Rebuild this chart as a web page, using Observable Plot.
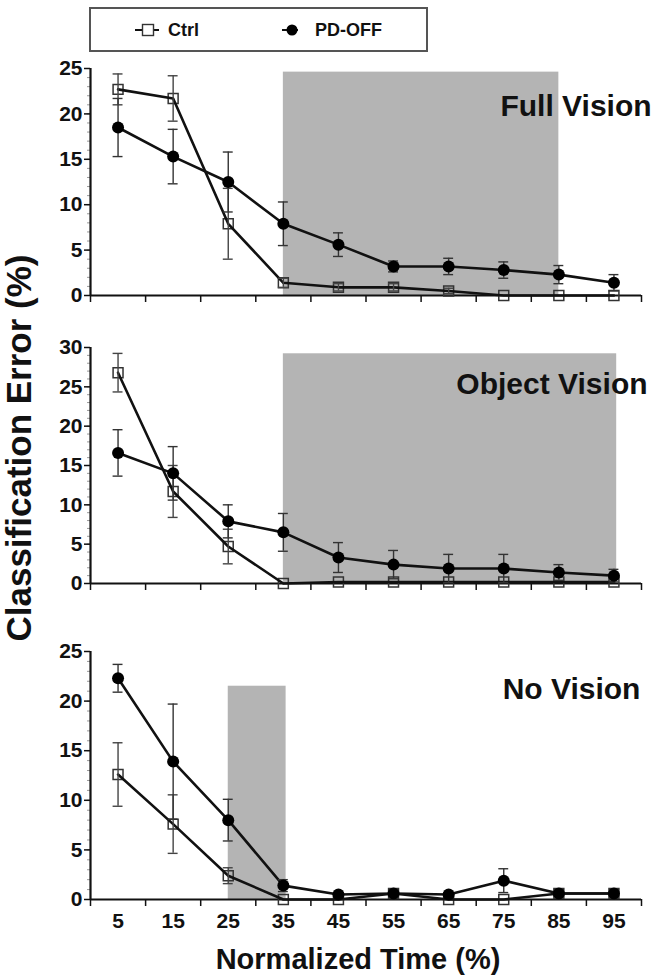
<!DOCTYPE html>
<html>
<head>
<meta charset="utf-8">
<script src="https://cdn.jsdelivr.net/npm/d3@7"></script>
<script src="https://cdn.jsdelivr.net/npm/@observablehq/plot@0.6"></script>
<style>
  body { margin: 0; background: #fff; }
  #root { position: relative; width: 657px; height: 977px; overflow: hidden;
          font-family: "Liberation Sans", Arial, Helvetica, sans-serif; color: #111; }
  .panel { position: absolute; left: 0; }
  #legend { position: absolute; left: 0; top: 0; }
  #ylabel { position: absolute; width: 460px; left: -211px; top: 429px; height: 38px; line-height: 38px;
            text-align: center; font-size: 35px; font-weight: bold; transform: rotate(-90deg);
            transform-origin: 50% 50%; }
</style>
</head>
<body>
<div id="root">
  <svg id="legend" width="657" height="60" font-family='"Liberation Sans", Arial, Helvetica, sans-serif'>
    <rect x="90" y="8" width="337" height="43" fill="#fff" stroke="#555" stroke-width="2"/>
    <line x1="135" y1="30" x2="159" y2="30" stroke="#111" stroke-width="2"/>
    <rect x="142.5" y="24.5" width="11" height="11" fill="#fff" stroke="#333" stroke-width="1.4"/>
    <text x="168" y="30" dy="0.35em" font-size="18" font-weight="bold" fill="#111">Ctrl</text>
    <line x1="282" y1="30" x2="298" y2="30" stroke="#111" stroke-width="2"/>
    <circle cx="292" cy="30" r="5.5" fill="#000"/>
    <text x="315" y="30" dy="0.35em" font-size="18" font-weight="bold" fill="#111">PD-OFF</text>
  </svg>
  <div id="ylabel">Classification Error (%)</div>
</div>
<script>
// ---- data ----
const times = [5, 15, 25, 35, 45, 55, 65, 75, 85, 95];
const xTicksMinor = [0, 10, 20, 30, 40, 50, 60, 70, 80, 90, 100];

// Full Vision
const ctrlFull    = [22.7, 21.7, 7.9, 1.4, 0.9, 0.9, 0.5, 0, 0, 0];
const ctrlFullErr = [1.7, 2.5, 3.9, 0.5, 0.4, 0.4, 0.3, 0, 0, 0];
const pdFull      = [18.5, 15.3, 12.5, 7.9, 5.6, 3.2, 3.2, 2.8, 2.3, 1.4];
const pdFullErr   = [3.2, 3.0, 3.3, 2.4, 1.3, 0.6, 0.9, 0.9, 1.0, 0.9];

// Object Vision
const ctrlObj     = [26.8, 11.7, 4.7, 0, 0.2, 0.2, 0.2, 0.2, 0.2, 0.2];
const ctrlObjErr  = [2.45, 3.3, 2.2, 0, 0, 0, 0, 0, 0, 0];
const pdObj       = [16.6, 14.0, 7.9, 6.5, 3.3, 2.4, 1.9, 1.9, 1.4, 1.0];
const pdObjErr    = [2.95, 3.4, 2.1, 2.4, 1.9, 1.8, 1.8, 1.8, 1.0, 0.8];

// No Vision
const ctrlNo      = [12.6, 7.6, 2.4, 0, 0, 0.6, 0, 0, 0.6, 0.6];
const ctrlNoErr   = [3.2, 2.95, 0.8, 0, 0, 0, 0, 0, 0, 0];
const pdNo        = [22.3, 13.9, 8.0, 1.4, 0.5, 0.6, 0.5, 1.9, 0.6, 0.6];
const pdNoErr     = [1.4, 5.8, 2.1, 0.6, 0, 0, 0, 1.2, 0, 0];

// shaded windows
const shadeFull = {x1: 35, x2: 85, top: 24.6};
const shadeObj  = {x1: 35, x2: 95.5, top: 29.2};
const shadeNo   = {x1: 25, x2: 35.5, top: 21.5};

const FONT = '"Liberation Sans", Arial, Helvetica, sans-serif';

function panel(cfg) {
  const mk = (v, e) => times.map((t, i) => ({t, v: v[i], e: e[i]}));
  const c = mk(cfg.ctrl, cfg.ctrlErr);
  const p = mk(cfg.pd, cfg.pdErr);
  const cap = 0.9;
  const withErr = arr => arr.filter(d => d.e > 0);
  const errMarks = (arr, stroke) => [
    Plot.ruleX(withErr(arr), {x: "t", y1: d => d.v - d.e, y2: d => d.v + d.e, stroke, strokeWidth: 1.4}),
    Plot.ruleY(withErr(arr), {y: d => d.v + d.e, x1: d => d.t - cap, x2: d => d.t + cap, stroke, strokeWidth: 1.4}),
    Plot.ruleY(withErr(arr), {y: d => d.v - d.e, x1: d => d.t - cap, x2: d => d.t + cap, stroke, strokeWidth: 1.4})
  ];
  const yTicks = d3.range(0, cfg.yMax + 1, 5);
  const marks = [
    Plot.rect([cfg.shade], {x1: "x1", x2: "x2", y1: 0, y2: "top", fill: "#b4b4b4"}),
    Plot.axisY(d3.range(0, cfg.yMax + 1, 1), {tickSize: 3, stroke: "#999", tickFormat: () => "", label: null}),
    Plot.axisY(yTicks, {tickSize: 6, tickPadding: 2, fontSize: 21, fontWeight: "bold", fill: "#111",
                        stroke: "#111", strokeWidth: 1.5, label: null}),
    Plot.axisX(xTicksMinor, {tickSize: 7, stroke: "#111", strokeWidth: 1.5, tickFormat: () => "", label: null}),
    Plot.ruleY([0], {stroke: "#111", strokeWidth: 2.2}),
    Plot.ruleX([0], {y1: 0, y2: cfg.yMax, stroke: "#111", strokeWidth: 2.2}),
    Plot.dot(c, {x: "t", y: "v", symbol: "square", r: 5.6, fill: "none", stroke: "#333", strokeWidth: 1.5}),
    Plot.line(c, {x: "t", y: "v", stroke: "#111", strokeWidth: 2.6}),
    Plot.line(p, {x: "t", y: "v", stroke: "#111", strokeWidth: 2.6}),
    ...errMarks(c, "#444"),
    ...errMarks(p, "#333"),
    Plot.dot(p, {x: "t", y: "v", r: 6, fill: "#000"}),
    Plot.text([cfg.title], {x: cfg.titleX, y: cfg.titleY, text: d => d, textAnchor: "start", lineAnchor: "bottom",
                            fontSize: 30, fontWeight: "bold", fill: "#111"})
  ];
  if (cfg.bottom) {
    marks.push(Plot.axisX(times, {tickSize: 0, tickPadding: 14, fontSize: 21, fontWeight: "bold", fill: "#111", label: null}));
    marks.push(Plot.text(["Normalized Time (%)"], {frameAnchor: "bottom", dy: 69, dx: -8, text: d => d,
                          fontSize: 29, fontWeight: "bold", fill: "#111"}));
  }
  const marginTop = 10, marginBottom = cfg.bottom ? 78 : 10;
  const svg = Plot.plot({
    width: 657,
    height: marginTop + cfg.plotH + marginBottom,
    marginLeft: 90, marginRight: 16, marginTop, marginBottom,
    x: {domain: [0, 100]},
    y: {domain: [0, cfg.yMax]},
    style: {fontFamily: FONT, background: "transparent", color: "#111", overflow: "visible"},
    marks
  });
  svg.classList.add("panel");
  svg.style.top = cfg.top + "px";
  svg.style.position = "absolute";
  document.getElementById("root").appendChild(svg);
}

panel({ctrl: ctrlFull, ctrlErr: ctrlFullErr, pd: pdFull, pdErr: pdFullErr, yMax: 25, shade: shadeFull,
       title: "Full Vision", titleX: 74.4, titleY: 19.8, plotH: 227, top: 58});
panel({ctrl: ctrlObj, ctrlErr: ctrlObjErr, pd: pdObj, pdErr: pdObjErr, yMax: 30, shade: shadeObj,
       title: "Object Vision", titleX: 66.4, titleY: 24.1, plotH: 236, top: 337});
panel({ctrl: ctrlNo, ctrlErr: ctrlNoErr, pd: pdNo, pdErr: pdNoErr, yMax: 25, shade: shadeNo,
       title: "No Vision", titleX: 74.8, titleY: 20.2, plotH: 248, top: 641, bottom: true});
</script>
</body>
</html>
